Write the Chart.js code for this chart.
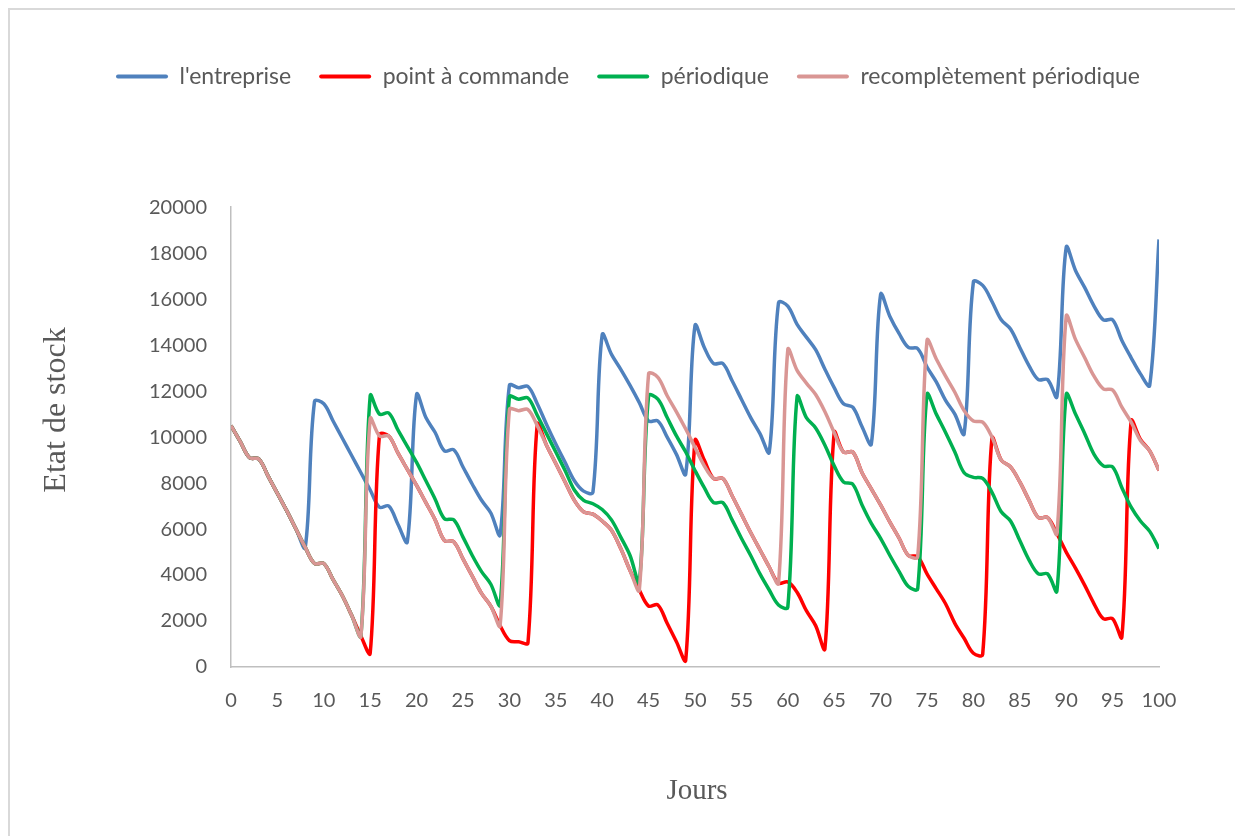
<!DOCTYPE html>
<html>
<head>
<meta charset="utf-8">
<script src="https://cdn.jsdelivr.net/npm/chart.js@4"></script>
<style>
  html, body { margin: 0; padding: 0; background: #fff; overflow: hidden; }
  #wrap { position: relative; width: 1235px; height: 836px; }
  #frame { position: absolute; left: 8px; top: 8px; width: 1300px; height: 900px;
           border: 2px solid #d9d9d9; pointer-events: none; }
</style>
</head>
<body>
<div id="wrap">
  <canvas id="stockChart" width="1235" height="836"></canvas>
  <div id="frame"></div>
</div>
<script>
// ── DATA ──────────────────────────────────────────────────────────────
const days = [
  0, 1, 2, 3, 4, 5, 6, 7, 8, 9,
  10, 11, 12, 13, 14, 15, 16, 17, 18, 19,
  20, 21, 22, 23, 24, 25, 26, 27, 28, 29,
  30, 31, 32, 33, 34, 35, 36, 37, 38, 39,
  40, 41, 42, 43, 44, 45, 46, 47, 48, 49,
  50, 51, 52, 53, 54, 55, 56, 57, 58, 59,
  60, 61, 62, 63, 64, 65, 66, 67, 68, 69,
  70, 71, 72, 73, 74, 75, 76, 77, 78, 79,
  80, 81, 82, 83, 84, 85, 86, 87, 88, 89,
  90, 91, 92, 93, 94, 95, 96, 97, 98, 99,
  100
];

const seriesNames = ["l'entreprise", 'point à commande', 'périodique', 'recomplètement périodique'];

const entreprise = [
  10500, 9800, 9100, 9050, 8300, 7550, 6800, 6000, 5200, 11550,
  11450, 10700, 9950, 9200, 8450, 7700, 6950, 7000, 6200, 5450,
  11850, 10850, 10200, 9400, 9450, 8700, 7950, 7250, 6700, 5750,
  12250, 12150, 12200, 11450, 10550, 9700, 8900, 8100, 7650, 7600,
  14450, 13600, 12950, 12250, 11500, 10700, 10700, 10000, 9250, 8400,
  14850, 13900, 13200, 13200, 12450, 11650, 10850, 10150, 9350, 15850,
  15700, 14900, 14350, 13800, 12950, 12150, 11450, 11300, 10450, 9700,
  16200, 15250, 14500, 13900, 13850, 13050, 12400, 11600, 11000, 10150,
  16750, 16600, 15900, 15100, 14700, 13900, 13100, 12500, 12500, 11750,
  18250, 17250, 16500, 15700, 15100, 15100, 14200, 13450, 12750, 12250,
  18600
];

const pointCommande = [
  10500, 9800, 9100, 9050, 8300, 7550, 6800, 6000, 5200, 4500,
  4500, 3800, 3100, 2250, 1350, 600, 10100, 10050, 9300, 8600,
  7900, 7150, 6400, 5500, 5450, 4700, 3950, 3200, 2650, 1800,
  1150, 1100, 1050, 10550, 9650, 8850, 8050, 7250, 6750, 6650,
  6350, 5950, 5150, 4200, 3350, 2650, 2700, 1900, 1100, 300,
  9850, 9000, 8200, 8200, 7450, 6650, 5850, 5100, 4350, 3650,
  3700, 3250, 2450, 1800, 800, 10200, 9350, 9350, 8450, 7750,
  7050, 6300, 5600, 4850, 4800, 4050, 3400, 2750, 1900, 1250,
  600, 550, 9950, 9000, 8700, 8050, 7250, 6500, 6500, 5800,
  5000, 4300, 3550, 2750, 2100, 2100, 1300, 10700, 9900, 9400,
  8550
];

const periodique = [
  10500, 9800, 9100, 9050, 8300, 7550, 6800, 6000, 5200, 4500,
  4500, 3800, 3100, 2250, 1350, 11800, 11000, 11050, 10300, 9600,
  8900, 8100, 7300, 6450, 6400, 5650, 4850, 4150, 3600, 2700,
  11750, 11650, 11700, 10950, 10150, 9350, 8550, 7700, 7250, 7100,
  6850, 6400, 5650, 4850, 3700, 11800, 11650, 10850, 10050, 9350,
  8550, 7800, 7150, 7150, 6400, 5600, 4850, 4050, 3350, 2700,
  2600, 11750, 10850, 10400, 9650, 8750, 8050, 7950, 7050, 6250,
  5600, 4850, 4150, 3500, 3400, 11850, 11000, 10200, 9350, 8450,
  8250, 8200, 7600, 6750, 6350, 5500, 4650, 4050, 4050, 3300,
  11850, 11000, 10150, 9250, 8750, 8700, 7800, 6950, 6350, 5900,
  5150
];

const recompletement = [
  10500, 9800, 9100, 9050, 8300, 7550, 6800, 6000, 5200, 4500,
  4500, 3800, 3100, 2250, 1350, 10800, 10050, 10050, 9300, 8600,
  7900, 7150, 6400, 5500, 5450, 4700, 3950, 3200, 2650, 1800,
  11200, 11150, 11200, 10500, 9650, 8850, 8050, 7250, 6750, 6650,
  6350, 5950, 5150, 4200, 3350, 12750, 12600, 11800, 11100, 10350,
  9550, 8750, 8200, 8200, 7450, 6650, 5850, 5100, 4350, 3650,
  13800, 12900, 12350, 11850, 11100, 10200, 9350, 9350, 8450, 7750,
  7050, 6300, 5600, 4850, 4800, 14200, 13400, 12650, 11950, 11150,
  10700, 10650, 10000, 9000, 8700, 8050, 7250, 6500, 6500, 5800,
  15250, 14250, 13450, 12650, 12100, 12050, 11300, 10650, 9850, 9400,
  8550
];

const seriesColors = ['#4f81bd', '#ff0000', '#00b050', '#d99694'];

// ── CHART ─────────────────────────────────────────────────────────────
const TEXT = '#595959';
const AXIS = '#bfbfbf';

function makeSet(i, values) {
  return {
    label: seriesNames[i],
    data: values,
    borderColor: seriesColors[i],
    backgroundColor: seriesColors[i],
    borderWidth: 3.5,
    pointRadius: 0,
    tension: 0.35,
    fill: false,
    order: 4 - i // later series are painted on top, as in the original
  };
}

// axis titles are placed like the original, apart from the scale boxes
const axisTitles = {
  id: 'axisTitles',
  afterDraw(chart) {
    const ctx = chart.ctx;
    ctx.save();
    ctx.fillStyle = TEXT;
    ctx.textAlign = 'center';
    ctx.textBaseline = 'middle';
    ctx.font = '29px "Liberation Serif", "Times New Roman", serif';
    ctx.fillText('Jours', 697, 791);
    ctx.font = '32px "Liberation Serif", "Times New Roman", serif';
    ctx.translate(57, 410);
    ctx.rotate(-Math.PI / 2);
    ctx.fillText('Etat de stock', 0, 0);
    ctx.restore();
  }
};

new Chart(document.getElementById('stockChart'), {
  type: 'line',
  data: {
    labels: days,
    datasets: [
      makeSet(0, entreprise),
      makeSet(1, pointCommande),
      makeSet(2, periodique),
      makeSet(3, recompletement)
    ]
  },
  options: {
    responsive: false,
    animation: false,
    layout: { padding: { top: 37, right: 0, bottom: 0, left: 21 } },
    plugins: {
      legend: {
        position: 'top',
        weight: 1000,
        labels: {
          color: TEXT,
          font: { family: 'Lato', size: 23 },
          boxWidth: 52,
          boxHeight: 4,
          padding: 28,
          useBorderRadius: true,
          borderRadius: 2,
          generateLabels(chart) {
            const items = Chart.defaults.plugins.legend.labels.generateLabels(chart);
            items.sort((a, b) => a.datasetIndex - b.datasetIndex);
            items.forEach(it => { it.lineWidth = 0; it.fillStyle = it.strokeStyle; });
            return items;
          }
        }
      },
      // empty title used as a gap between legend and plot
      title: { display: true, text: '', weight: 500, font: { size: 1 }, padding: { top: 0, bottom: 108 } },
      tooltip: { enabled: false }
    },
    scales: {
      x: {
        type: 'linear',
        min: 0, max: 100,
        grid: { display: false },
        border: { display: true, color: AXIS, width: 1.5 },
        ticks: { stepSize: 5, color: TEXT, font: { family: 'Lato', size: 20 }, padding: 14, maxRotation: 0 },
        afterFit(scale) { scale.height = 169; }
      },
      y: {
        min: 0, max: 20000,
        grid: { display: false },
        border: { display: true, color: AXIS, width: 1.5 },
        ticks: {
          stepSize: 2000, color: TEXT, font: { family: 'Lato', size: 20 }, padding: 16,
          callback: v => String(v)
        },
        afterFit(scale) { scale.width = 210; }
      },
      // empty right margin, as in the original plot
      margin: {
        position: 'right',
        min: 0, max: 1,
        grid: { display: false },
        border: { display: false },
        ticks: { display: false },
        afterFit(scale) { scale.width = 76; }
      }
    }
  },
  plugins: [axisTitles]
});
</script>
</body>
</html>
